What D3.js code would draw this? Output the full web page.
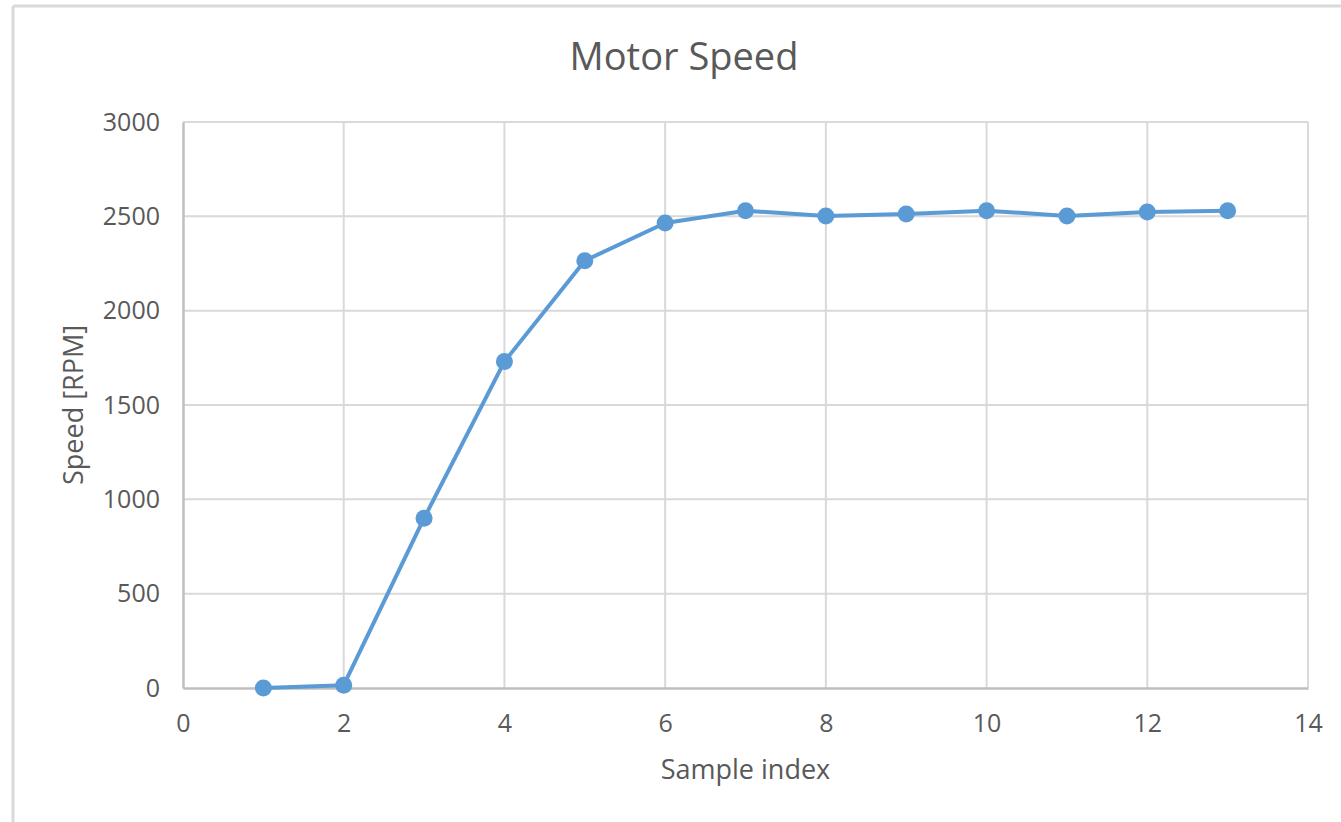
<!DOCTYPE html>
<html>
<head>
<meta charset="utf-8">
<script src="https://cdn.jsdelivr.net/npm/d3@7"></script>
<style>
  body { margin: 0; background: #fff; }
  svg { display: block; font-family: "Open Sans", sans-serif; }
</style>
</head>
<body>
<svg id="chart" width="1341" height="822"></svg>
<script>
// data
var sampleIndex = [1, 2, 3, 4, 5, 6, 7, 8, 9, 10, 11, 12, 13];
var speedRpm = [0, 15, 900, 1730, 2265, 2465, 2530, 2502, 2512, 2530, 2502, 2523, 2530];
var xTicks = [0, 2, 4, 6, 8, 10, 12, 14];
var yTicks = [0, 500, 1000, 1500, 2000, 2500, 3000];

var svg = d3.select("#chart"),
    margin = {top: 122, right: 33, bottom: 134, left: 183},
    width = +svg.attr("width") - margin.left - margin.right,
    height = +svg.attr("height") - margin.top - margin.bottom;

// chart frame (only top and left edges show in the crop)
svg.append("line").attr("x1", 13).attr("x2", 1341).attr("y1", 6).attr("y2", 6)
    .attr("stroke", "#d9d9d9").attr("stroke-width", 3);
svg.append("line").attr("x1", 13).attr("x2", 13).attr("y1", 6).attr("y2", 822)
    .attr("stroke", "#d9d9d9").attr("stroke-width", 3);

var g = svg.append("g").attr("transform", "translate(" + margin.left + "," + margin.top + ")");

var x = d3.scaleLinear().domain([0, 14]).range([0, width]);
var y = d3.scaleLinear().domain([0, 3000]).range([height, 0]);

// gridlines
g.append("g")
    .selectAll("line.h")
    .data(yTicks.filter(function(d) { return d > 0; }))
    .enter().append("line")
      .attr("x1", 0).attr("x2", width)
      .attr("y1", function(d) { return y(d); })
      .attr("y2", function(d) { return y(d); })
      .attr("stroke", "#d9d9d9").attr("stroke-width", 2);

g.append("g")
    .selectAll("line.v")
    .data(xTicks.filter(function(d) { return d > 0; }))
    .enter().append("line")
      .attr("x1", function(d) { return x(d); })
      .attr("x2", function(d) { return x(d); })
      .attr("y1", 0).attr("y2", height)
      .attr("stroke", "#d9d9d9").attr("stroke-width", 2);

// axes
var xAxis = g.append("g")
    .attr("transform", "translate(0," + height + ")")
    .call(d3.axisBottom(x).tickValues(xTicks).tickSize(0).tickPadding(29).tickFormat(d3.format("d")));
var yAxis = g.append("g")
    .call(d3.axisLeft(y).tickValues(yTicks).tickSize(0).tickPadding(23).tickFormat(d3.format("d")));

[xAxis, yAxis].forEach(function(a) {
  a.select(".domain").attr("stroke", "#bfbfbf").attr("stroke-width", 2.5);
  a.selectAll("text")
      .attr("fill", "#595959")
      .attr("font-size", 25)
      .attr("font-family", "Open Sans, sans-serif");
});
xAxis.selectAll("text").attr("dy", "0.6em");

// line + markers
var pts = sampleIndex.map(function(d, i) { return [d, speedRpm[i]]; });

g.append("path")
    .datum(pts)
    .attr("fill", "none")
    .attr("stroke", "#5b9bd5")
    .attr("stroke-width", 4)
    .attr("stroke-linejoin", "round")
    .attr("d", d3.line()
      .x(function(d) { return x(d[0]); })
      .y(function(d) { return y(d[1]); }));

g.append("g")
    .selectAll("circle")
    .data(pts)
    .enter().append("circle")
      .attr("cx", function(d) { return x(d[0]); })
      .attr("cy", function(d) { return y(d[1]); })
      .attr("r", 8.5)
      .attr("fill", "#5b9bd5");

// titles
svg.append("text")
    .attr("x", 684).attr("y", 70)
    .attr("text-anchor", "middle")
    .attr("font-size", 38)
    .attr("fill", "#595959")
    .text("Motor Speed");

svg.append("text")
    .attr("x", margin.left + width / 2).attr("y", 779)
    .attr("text-anchor", "middle")
    .attr("font-size", 27)
    .attr("fill", "#595959")
    .text("Sample index");

svg.append("text")
    .attr("transform", "translate(83," + (margin.top + height / 2) + ") rotate(-90)")
    .attr("text-anchor", "middle")
    .attr("font-size", 27)
    .attr("fill", "#595959")
    .text("Speed [RPM]");
</script>
</body>
</html>
